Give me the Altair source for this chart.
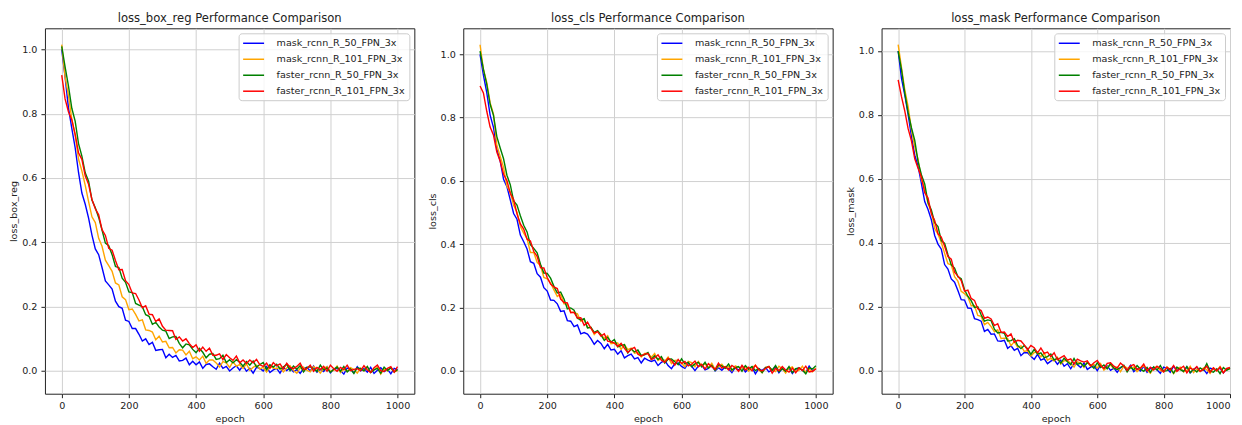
import altair as alt
import pandas as pd

EPOCHS = list(range(0, 1001, 10))
MODELS = ["mask_rcnn_R_50_FPN_3x", "mask_rcnn_R_101_FPN_3x",
          "faster_rcnn_R_50_FPN_3x", "faster_rcnn_R_101_FPN_3x"]
COLORS = ["blue", "orange", "green", "red"]
METRICS = ["loss_box_reg", "loss_cls", "loss_mask"]
X_TICKS = [0, 200, 400, 600, 800, 1000]
Y_TICKS = [0.0, 0.2, 0.4, 0.6, 0.8, 1.0]

# ---- loss_box_reg (one value every 10 epochs) ----
BOX_M50 = [1.000,.915,.818,.754,.694,.617,.553,.518,.475,.422,
.379,.361,.321,.279,.267,.254,.216,.199,.194,.157,
.153,.131,.131,.113,.092,.099,.081,.088,.063,.065,
.066,.040,.051,.041,.047,.030,.032,.039,.018,.029,
.018,.027,.007,.019,.021,.012,.004,.023,.007,.013,
-.001,.008,.015,.001,.016,-.002,.007,-.008,.010,.007,
-.001,.013,-.006,.002,.007,-.008,.011,.000,.009,-.004,
.003,-.009,.006,.010,-.001,.014,-.005,.004,-.003,.012,
-.007,.004,.007,.000,-.011,.008,.005,-.007,.012,-.001,
.006,-.005,.010,-.009,.001,.009,-.003,.004,-.010,.007,
.003]
BOX_M101 = [1.015,.914,.857,.783,.733,.659,.622,.577,.526,.479,
.461,.412,.387,.344,.327,.309,.273,.267,.230,.221,
.190,.192,.175,.155,.158,.127,.125,.120,.096,.107,
.089,.091,.071,.072,.055,.065,.064,.049,.060,.037,
.043,.033,.045,.023,.033,.033,.024,.011,.028,.024,
.010,.028,.013,.019,.007,.021,.001,.010,.017,.005,
.011,-.004,.013,.008,.006,.011,-.004,.008,.015,.000,
-.008,.008,.011,.001,-.004,.013,.005,-.008,.007,.012,
-.003,.001,.014,-.006,.005,-.003,.009,.003,-.008,.008,
-.001,.012,-.006,.003,.010,-.011,.005,-.001,.009,-.005,
.001]
BOX_F50 = [1.010,.946,.887,.817,.777,.707,.668,.616,.590,.531,
.507,.477,.438,.397,.389,.361,.324,.321,.288,.275,
.245,.243,.209,.204,.199,.174,.169,.144,.150,.136,
.126,.123,.100,.105,.106,.085,.071,.083,.080,.066,
.056,.069,.057,.040,.051,.053,.035,.037,.048,.025,
.034,.024,.034,.026,.014,.028,.017,.030,.011,.019,
.025,.003,.018,.011,.020,.005,.011,.020,.000,.014,
.004,.015,-.004,.010,.012,.005,-.003,.017,.002,.008,
-.005,.004,.011,-.002,.013,-.004,.005,-.009,.009,.006,
-.001,.013,-.006,.002,.007,-.008,.011,.000,.009,-.004,
.003]
BOX_F101 = [.920,.846,.806,.781,.736,.678,.658,.607,.580,.533,
.504,.485,.439,.421,.381,.375,.343,.314,.315,.280,
.268,.242,.240,.220,.196,.202,.176,.174,.153,.161,
.138,.126,.125,.124,.097,.105,.092,.099,.084,.072,
.080,.060,.073,.060,.070,.048,.048,.052,.034,.050,
.040,.032,.045,.024,.033,.022,.033,.024,.035,.018,
.013,.023,.007,.025,.015,.021,.005,.023,.010,.006,
.013,.023,.003,.006,.017,-.002,.010,.003,.013,-.002,
.017,.006,-.002,.010,.003,.017,.000,.004,.006,.000,
.015,.002,-.006,.009,.017,.000,-.003,.007,.012,-.005,
.012]

# ---- loss_cls ----
CLS_M50 = [1.000,.934,.879,.808,.769,.701,.663,.605,.582,.540,
.497,.479,.429,.408,.385,.345,.340,.307,.296,.263,
.252,.224,.223,.212,.188,.190,.159,.157,.140,.145,
.117,.121,.116,.102,.084,.096,.087,.070,.084,.066,
.068,.053,.064,.041,.048,.053,.038,.042,.025,.040,
.034,.030,.034,.017,.027,.033,.017,.007,.023,.025,
.014,.008,.024,.015,.001,.015,.019,.003,.008,.020,
.000,.010,.002,.013,.007,-.005,.011,.002,.015,-.003,
.006,.012,-.009,.007,.001,.011,-.003,.003,.013,-.006,
.008,-.001,.010,-.008,.006,.009,.002,-.005,.015,.000,
.007]
CLS_M101 = [1.030,.952,.911,.847,.811,.712,.677,.643,.584,.564,
.523,.501,.457,.435,.418,.374,.374,.343,.333,.295,
.291,.278,.256,.235,.242,.212,.211,.186,.184,.180,
.157,.163,.137,.137,.115,.126,.116,.102,.111,.086,
.088,.088,.068,.083,.067,.072,.056,.059,.044,.055,
.056,.043,.055,.033,.040,.031,.044,.023,.033,.034,
.025,.013,.030,.026,.013,.030,.016,.022,.010,.024,
.004,.013,.021,.008,.014,.000,.016,.011,.009,.014,
-.001,.010,.018,.003,-.006,.011,.014,.003,-.002,.015,
.007,-.007,.008,.013,-.002,.002,.015,-.005,.006,-.003,
.009]
CLS_F50 = [1.010,.953,.905,.842,.807,.740,.704,.670,.618,.588,
.537,.524,.490,.460,.439,.399,.387,.373,.337,.309,
.308,.293,.267,.246,.249,.227,.196,.199,.192,.166,
.161,.165,.136,.138,.122,.127,.114,.096,.106,.091,
.099,.076,.080,.083,.057,.069,.060,.066,.049,.051,
.058,.037,.048,.036,.045,.025,.037,.038,.029,.020,
.038,.022,.027,.013,.022,.027,.013,.027,.009,.017,
.002,.019,.016,.008,.022,.003,.010,.014,-.001,.017,
.006,.014,.001,.008,-.005,.010,.014,.002,.017,-.002,
.007,-.001,.014,-.005,.007,.009,.002,-.009,.010,.006,
.016]
CLS_F101 = [.900,.878,.820,.770,.745,.691,.662,.621,.601,.561,
.541,.496,.464,.448,.416,.410,.377,.362,.326,.325,
.295,.274,.265,.260,.227,.216,.215,.184,.185,.167,
.168,.144,.154,.135,.119,.124,.110,.117,.094,.092,
.088,.077,.087,.071,.058,.069,.074,.053,.047,.053,
.055,.036,.041,.051,.034,.027,.040,.033,.018,.036,
.023,.030,.016,.021,.031,.013,.021,.006,.023,.013,
.005,.025,.009,.014,.003,.017,.010,-.001,.018,.003,
.012,.000,.018,.004,.000,.007,.014,-.007,.008,.001,
.014,.003,-.004,.009,-.006,.010,.001,.015,-.003,-.001,
.006]

# ---- loss_mask ----
MASK_M50 = [1.000,.914,.862,.802,.733,.674,.640,.586,.529,.504,
.472,.423,.396,.380,.332,.318,.287,.277,.251,.222,
.221,.196,.195,.163,.160,.155,.123,.129,.114,.115,
.093,.092,.095,.070,.078,.064,.070,.047,.057,.056,
.045,.035,.051,.033,.038,.022,.030,.035,.020,.033,
.014,.022,.006,.023,.019,.010,.024,.004,.011,.016,
.000,.018,.006,.015,.001,.008,-.005,.010,.013,.002,
.017,-.003,.006,-.001,.014,-.005,.007,.010,.003,-.008,
.011,.007,-.005,.014,.001,.008,-.003,.012,-.007,.003,
.011,-.002,.005,-.009,.008,.004,.002,.008,-.007,.005,
.004]
MASK_M101 = [1.020,.949,.878,.826,.754,.700,.661,.598,.570,.522,
.497,.445,.427,.401,.367,.335,.331,.294,.280,.248,
.241,.231,.203,.203,.173,.170,.144,.151,.138,.122,
.128,.101,.102,.100,.078,.091,.074,.078,.060,.063,
.046,.057,.058,.043,.055,.033,.039,.030,.042,.021,
.031,.032,.023,.011,.028,.024,.010,.028,.014,.020,
.008,.022,.002,.011,.018,.006,.012,-.003,.014,.009,
.007,.012,-.003,.008,.016,.001,-.008,.009,.012,.001,
-.004,.012,.004,-.009,.006,.011,-.004,.001,.014,-.006,
.005,-.003,.009,.003,-.008,.008,-.001,.013,-.005,.004,
.004]
MASK_F50 = [1.000,.942,.868,.807,.760,.720,.654,.613,.584,.526,
.503,.463,.451,.407,.398,.363,.331,.321,.294,.288,
.253,.233,.219,.198,.200,.175,.155,.159,.157,.130,
.118,.120,.117,.093,.094,.100,.079,.069,.079,.069,
.051,.067,.052,.056,.041,.044,.052,.033,.039,.023,
.039,.028,.019,.038,.020,.024,.013,.025,.018,.007,
.025,.010,.018,.006,.023,.008,.004,.010,.017,-.004,
.011,.003,.016,.005,-.002,.010,-.005,.012,.002,.016,
-.002,.000,.007,-.008,.011,.003,-.002,.013,-.006,.005,
-.004,.009,.002,.022,-.001,-.005,.006,-.009,.010,.001,
.008]
MASK_F101 = [.910,.857,.812,.757,.719,.663,.633,.606,.557,.540,
.491,.470,.428,.418,.389,.357,.349,.308,.296,.282,
.249,.252,.226,.220,.194,.188,.164,.168,.162,.141,
.147,.120,.121,.107,.115,.089,.095,.093,.081,.065,
.079,.072,.056,.071,.054,.058,.044,.056,.034,.041,
.047,.033,.037,.021,.036,.031,.027,.031,.015,.025,
.032,.016,.007,.023,.025,.014,.008,.024,.015,.001,
.015,.019,.004,.008,.021,.000,.011,.002,.014,.007,
-.004,.011,.002,.016,-.002,.007,.014,-.007,.009,.003,
.013,-.002,.004,.014,-.005,.009,.000,.011,-.007,.007,
.010]

SERIES = {
    "loss_box_reg": [BOX_M50, BOX_M101, BOX_F50, BOX_F101],
    "loss_cls": [CLS_M50, CLS_M101, CLS_F50, CLS_F101],
    "loss_mask": [MASK_M50, MASK_M101, MASK_F50, MASK_F101],
}
Y_DOMAINS = {
    "loss_box_reg": [-0.072, 1.066],
    "loss_cls": [-0.072, 1.082],
    "loss_mask": [-0.072, 1.071],
}
X_DOMAINS = {
    "loss_box_reg": [-50, 1050],
    "loss_cls": [-50, 1050],
    "loss_mask": [-50, 1000],
}
WIDTHS = {"loss_box_reg": 370, "loss_cls": 370, "loss_mask": 349}
HEIGHT = 366

FONT = "DejaVu Sans"
TEXT = "#222222"


def panel(metric):
    rows = []
    for model, vals in zip(MODELS, SERIES[metric]):
        for e, v in zip(EPOCHS, vals):
            rows.append({"epoch": e, "value": v, "model": model})
    df = pd.DataFrame(rows)
    return (
        alt.Chart(df)
        .mark_line(strokeWidth=1.4)
        .encode(
            x=alt.X("epoch:Q",
                    scale=alt.Scale(domain=X_DOMAINS[metric], nice=False, zero=False),
                    axis=alt.Axis(values=X_TICKS, title="epoch", format="d", labelFlush=5)),
            y=alt.Y("value:Q",
                    scale=alt.Scale(domain=Y_DOMAINS[metric], nice=False, zero=False),
                    axis=alt.Axis(values=Y_TICKS, title=metric, format=".1f", labelPadding=4)),
            color=alt.Color(
                "model:N",
                sort=MODELS,
                scale=alt.Scale(domain=MODELS, range=COLORS),
                legend=alt.Legend(
                    orient="top-right", title=None, offset=5, padding=4,
                    symbolType="M-2,0H2", symbolSize=110, symbolStrokeWidth=1.5,
                    symbolOffset=5,
                    labelFont=FONT, labelFontSize=9.6, labelColor=TEXT,
                    labelOffset=17, rowPadding=5,
                    strokeColor="#cccccc", fillColor="rgba(255,255,255,0.8)",
                    cornerRadius=3,
                ),
            ),
        )
        .properties(
            width=WIDTHS[metric], height=HEIGHT,
            title=alt.TitleParams(
                text=f"{metric} Performance Comparison",
                font=FONT, fontSize=11.6, fontWeight="normal", color=TEXT,
                anchor="middle", frame="group", offset=4,
            ),
        )
    )


chart = (
    alt.hconcat(*[panel(m) for m in METRICS], spacing=11)
    .resolve_scale(color="independent", x="independent", y="independent")
    .resolve_legend(color="independent")
    .properties(padding={"left": 0, "top": 3, "right": 0, "bottom": 0})
    .configure_view(stroke="#222222", strokeWidth=1)
    .configure_axis(
        labelFont=FONT, labelFontSize=9.6, labelColor=TEXT,
        titleFont=FONT, titleFontSize=9.6, titleFontWeight="normal", titleColor=TEXT,
        tickColor="#222222", tickSize=4, tickWidth=1,
        domain=False, grid=True, gridColor="#d0d0d0", gridWidth=1,
        labelPadding=3, titlePadding=3,
    )
)

chart.save("out.html", embed_options={"renderer": "svg", "actions": False})
